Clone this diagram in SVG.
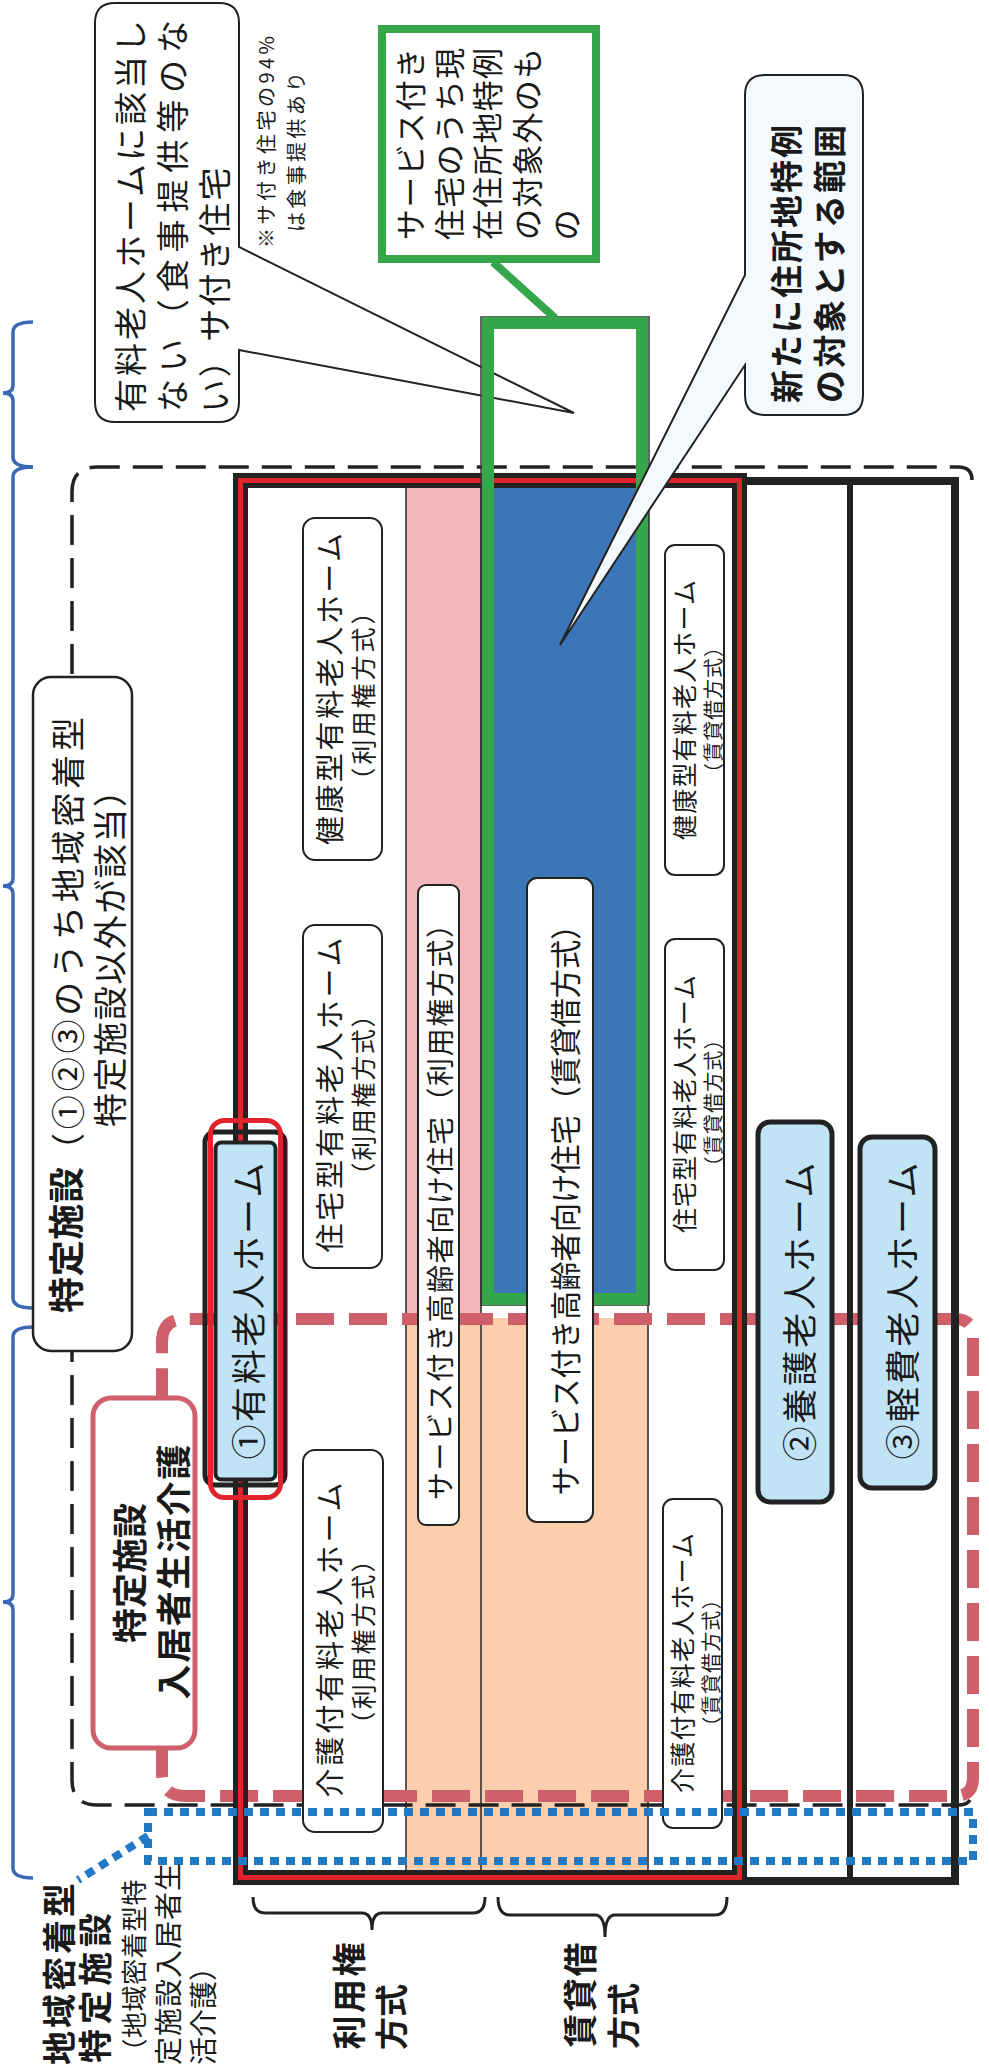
<svg xmlns="http://www.w3.org/2000/svg" width="989" height="2068" viewBox="0 0 989 2068">
<style>
text{font-family:"Noto Sans CJK JP","Noto Sans",sans-serif;fill:#1a1a1a;text-anchor:middle;dominant-baseline:central}
.b{font-weight:700}
.lbl{fill:#fff;stroke:#222;stroke-width:2}
.home{fill:#c0e4f6;stroke:#222;stroke-width:5}
.sep{stroke:#333;stroke-width:1.6;fill:none}
.brace{fill:none;stroke:#3b68b5;stroke-width:3.5}
.kbrace{fill:none;stroke:#222;stroke-width:3}
</style>
<rect width="989" height="2068" fill="#fff"/>

<g id="fills">
<rect x="406" y="488" width="75" height="830" fill="#f3b8bb"/>
<rect x="481" y="488" width="167" height="817" fill="#3b76b8"/>
<rect x="406" y="1318" width="242" height="552" fill="#fbcfad"/>
<path class="sep" d="M406 488V1870M481 488V1870M648 488V1870"/>
</g>

<g id="connectors">
<path d="M972 480Q972 467 958 467L97 467Q72 467 72 492L72 1780Q72 1805 97 1805L958 1805Q970 1805 972 1795" fill="none" stroke="#222" stroke-width="3.5" stroke-dasharray="30 13"/>
<path d="M190 1319L955 1319Q973 1319 973 1337L973 1778Q973 1796 955 1796L185 1796Q162 1796 162 1773L162 1342Q162 1319 185 1319Z" fill="none" stroke="#cf5f6b" stroke-width="12" stroke-dasharray="38 15"/>
<path class="brace" d="M33 322Q13 322 13 332L13 385Q13 393 3 393Q13 393 13 401L13 457Q13 467 33 467"/>
<path class="brace" d="M33 467Q13 467 13 477L13 878Q13 886 3 886Q13 886 13 894L13 1298Q13 1308 33 1308"/>
<path class="brace" d="M33 1327Q13 1327 13 1337L13 1594Q13 1602 3 1602Q13 1602 13 1610L13 1868Q13 1878 33 1878"/>
<path class="kbrace" d="M253 1897Q253 1913 265 1913L362 1913Q372 1913 372 1930Q372 1913 382 1913L473 1913Q485 1913 485 1897"/>
<path class="kbrace" d="M498 1897Q498 1915 510 1915L595 1915Q605 1915 605 1937Q605 1915 615 1915L715 1915Q727 1915 727 1897"/>
</g>

<g id="frame">
<rect x="743" y="481" width="212" height="1400" fill="none" stroke="#222" stroke-width="8"/>
<line x1="850" y1="481" x2="850" y2="1881" stroke="#222" stroke-width="6"/>
<rect x="240.5" y="480.5" width="499" height="1397" fill="none" stroke="#222" stroke-width="15"/>
<rect x="240.5" y="480.5" width="499" height="1397" fill="none" stroke="#e3232b" stroke-width="5"/>
</g>

<g id="callout-meal">
<path d="M115 3L219 3Q239 3 239 23L239 247L574 413L239 350L239 402Q239 422 219 422L115 422Q95 422 95 402L95 23Q95 3 115 3Z" fill="#fff" stroke="#222" stroke-width="2"/>
<text x="0" y="0" font-size="33" textLength="392" lengthAdjust="spacing" transform="translate(129 216) rotate(-90)">有料老人ホームに該当し</text>
<text x="0" y="0" font-size="33" textLength="392" lengthAdjust="spacing" transform="translate(171 216) rotate(-90)">ない（食事提供等のな</text>
<text x="0" y="0" font-size="33" textLength="245" lengthAdjust="spacing" transform="translate(213 290) rotate(-90)">い）サ付き住宅</text>
<text x="0" y="0" font-size="20" textLength="212" lengthAdjust="spacing" transform="translate(265 142) rotate(-90)">※サ付き住宅の94%</text>
<text x="0" y="0" font-size="20" textLength="160" lengthAdjust="spacing" transform="translate(295 152) rotate(-90)">は食事提供あり</text>
</g>

<g id="green-range">
<rect x="481" y="317" width="168" height="988" fill="none" stroke="#333" stroke-width="1.5"/>
<rect x="488" y="323" width="154" height="976" fill="none" stroke="#36a64a" stroke-width="12"/>
<line x1="493" y1="262" x2="555" y2="318" stroke="#36a64a" stroke-width="8"/>
<rect x="382" y="29" width="214" height="230" fill="#fff" stroke="#36a64a" stroke-width="8"/>
<text x="0" y="0" font-size="31" textLength="192" lengthAdjust="spacing" transform="translate(408 144) rotate(-90)">サービス付き</text>
<text x="0" y="0" font-size="31" textLength="192" lengthAdjust="spacing" transform="translate(447 144) rotate(-90)">住宅のうち現</text>
<text x="0" y="0" font-size="31" textLength="192" lengthAdjust="spacing" transform="translate(485 144) rotate(-90)">在住所地特例</text>
<text x="0" y="0" font-size="31" textLength="192" lengthAdjust="spacing" transform="translate(525 144) rotate(-90)">の対象外のも</text>
<text x="0" y="0" font-size="31" transform="translate(564 225) rotate(-90)">の</text>
</g>

<g id="labels">
<rect class="lbl" x="303" y="518" width="79" height="342" rx="12"/>
<text x="0" y="0" font-size="29" textLength="312" lengthAdjust="spacing" transform="translate(328 689) rotate(-90)">健康型有料老人ホーム</text>
<text x="0" y="0" font-size="25" textLength="193" lengthAdjust="spacing" transform="translate(362 696) rotate(-90)">（利用権方式）</text>
<rect class="lbl" x="303" y="925" width="79" height="343" rx="12"/>
<text x="0" y="0" font-size="29" textLength="315" lengthAdjust="spacing" transform="translate(328 1095) rotate(-90)">住宅型有料老人ホーム</text>
<text x="0" y="0" font-size="25" textLength="185" lengthAdjust="spacing" transform="translate(362 1095) rotate(-90)">（利用権方式）</text>
<rect class="lbl" x="303" y="1450" width="80" height="382" rx="12"/>
<text x="0" y="0" font-size="29" textLength="315" lengthAdjust="spacing" transform="translate(328 1640) rotate(-90)">介護付有料老人ホーム</text>
<text x="0" y="0" font-size="25" textLength="189" lengthAdjust="spacing" transform="translate(362 1642) rotate(-90)">（利用権方式）</text>

<rect class="lbl" x="418" y="885" width="41" height="640" rx="8"/>
<text x="0" y="0" font-size="28" textLength="590" lengthAdjust="spacing" transform="translate(439 1205) rotate(-90)">サービス付き高齢者向け住宅（利用権方式）</text>
<rect class="lbl" x="527" y="878" width="66" height="644" rx="10"/>
<text x="0" y="0" font-size="31" textLength="585" lengthAdjust="spacingAndGlyphs" transform="translate(563 1203) rotate(-90)">サービス付き高齢者向け住宅（賃貸借方式）</text>

<rect class="lbl" x="665" y="545" width="59" height="330" rx="10"/>
<text x="0" y="0" font-size="25" textLength="260" lengthAdjust="spacing" transform="translate(683 710) rotate(-90)">健康型有料老人ホーム</text>
<text x="0" y="0" font-size="20" textLength="146" lengthAdjust="spacing" transform="translate(712 710) rotate(-90)">（賃貸借方式）</text>
<rect class="lbl" x="665" y="939" width="59" height="331" rx="10"/>
<text x="0" y="0" font-size="25" textLength="258" lengthAdjust="spacing" transform="translate(683 1104) rotate(-90)">住宅型有料老人ホーム</text>
<text x="0" y="0" font-size="20" textLength="147" lengthAdjust="spacing" transform="translate(712 1103) rotate(-90)">（賃貸借方式）</text>
<rect class="lbl" x="663" y="1499" width="59" height="329" rx="10"/>
<text x="0" y="0" font-size="25" textLength="260" lengthAdjust="spacing" transform="translate(681 1663) rotate(-90)">介護付有料老人ホーム</text>
<text x="0" y="0" font-size="20" textLength="147" lengthAdjust="spacing" transform="translate(710 1663) rotate(-90)">（賃貸借方式）</text>
</g>

<g id="home1">
<rect x="205" y="1132" width="80" height="353" rx="10" fill="none" stroke="#222" stroke-width="5"/>
<rect x="210.5" y="1120.5" width="70" height="377" rx="14" fill="none" stroke="#e3232b" stroke-width="5"/>
<rect x="215.5" y="1142.5" width="60" height="337" rx="6" fill="#c0e4f6" stroke="#222" stroke-width="4"/>
<text x="0" y="0" font-size="35" textLength="297" lengthAdjust="spacing" transform="translate(246 1311) rotate(-90)">①有料老人ホーム</text>
</g>
<g id="home2">
<rect class="home" x="758" y="1122" width="74" height="380" rx="12"/>
<text x="0" y="0" font-size="35" textLength="299" lengthAdjust="spacing" transform="translate(797 1312) rotate(-90)">②養護老人ホーム</text>
</g>
<g id="home3">
<rect class="home" x="860" y="1137" width="75" height="351" rx="12"/>
<text x="0" y="0" font-size="35" textLength="297" lengthAdjust="spacing" transform="translate(900 1311) rotate(-90)">③軽費老人ホーム</text>
</g>

<g id="tokutei">
<rect x="33" y="677" width="99" height="674" rx="18" fill="#fff" stroke="#222" stroke-width="2.5"/>
<text x="0" y="0" class="b" font-size="36" textLength="146" lengthAdjust="spacing" transform="translate(64 1240) rotate(-90)">特定施設</text>
<text x="0" y="0" font-size="34" textLength="450" lengthAdjust="spacing" transform="translate(66 942) rotate(-90)">（①②③のうち地域密着型</text>
<text x="0" y="0" font-size="34" textLength="354" lengthAdjust="spacing" transform="translate(108 950) rotate(-90)">特定施設以外が該当）</text>
</g>

<g id="seikatsu">
<rect x="93" y="1398" width="102" height="350" rx="18" fill="#fff" stroke="#cf5f6b" stroke-width="5"/>
<text x="0" y="0" class="b" font-size="35" textLength="140" lengthAdjust="spacing" transform="translate(127 1573) rotate(-90)">特定施設</text>
<text x="0" y="0" class="b" font-size="35" textLength="255" lengthAdjust="spacing" transform="translate(171 1572) rotate(-90)">入居者生活介護</text>
</g>

<g id="chiiki">
<path d="M148 1812L973 1812L973 1861L148 1861ZM148 1836L78 1880" fill="none" stroke="#2178c4" stroke-width="8" stroke-dasharray="9 7"/>
<text x="0" y="0" class="b" font-size="34" textLength="182" lengthAdjust="spacing" transform="translate(57 1974) rotate(-90)">地域密着型</text>
<text x="0" y="0" class="b" font-size="34" textLength="150" lengthAdjust="spacing" transform="translate(93 1988) rotate(-90)">特定施設</text>
<text x="0" y="0" font-size="26" textLength="185" lengthAdjust="spacing" transform="translate(132 1972) rotate(-90)">（地域密着型特</text>
<text x="0" y="0" font-size="28" textLength="202" lengthAdjust="spacing" transform="translate(167 1964) rotate(-90)">定施設入居者生</text>
<text x="0" y="0" font-size="28" textLength="112" lengthAdjust="spacing" transform="translate(202 2009) rotate(-90)">活介護）</text>
</g>

<g id="method-labels">
<text x="0" y="0" class="b" font-size="34" textLength="107" lengthAdjust="spacing" transform="translate(347 1996) rotate(-90)">利用権</text>
<text x="0" y="0" class="b" font-size="33" textLength="66" lengthAdjust="spacing" transform="translate(390 2017) rotate(-90)">方式</text>
<text x="0" y="0" class="b" font-size="34" textLength="105" lengthAdjust="spacing" transform="translate(578 1995) rotate(-90)">賃貸借</text>
<text x="0" y="0" class="b" font-size="33" textLength="66" lengthAdjust="spacing" transform="translate(622 2016) rotate(-90)">方式</text>
</g>

<g id="callout-new">
<path d="M765 75L843 75Q863 75 863 95L863 395Q863 415 843 415L765 415Q745 415 745 395L745 365L560 645L745 275L745 95Q745 75 765 75Z" fill="#f3f9fc" stroke="#222" stroke-width="2"/>
<text x="0" y="0" class="b" font-size="33" textLength="278" lengthAdjust="spacing" transform="translate(785 264) rotate(-90)">新たに住所地特例</text>
<text x="0" y="0" class="b" font-size="33" textLength="278" lengthAdjust="spacing" transform="translate(828 264) rotate(-90)">の対象とする範囲</text>
</g>
</svg>
